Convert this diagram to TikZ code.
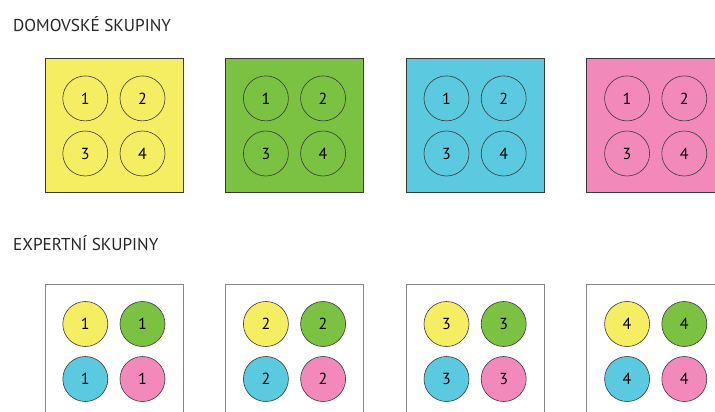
\documentclass[tikz,border=0pt]{standalone}
\usepackage{fontspec}
\setmainfont{PT Sans}
\usetikzlibrary{positioning}
\definecolor{GrpYellow}{HTML}{F6EE62}
\definecolor{GrpGreen}{HTML}{7BC142}
\definecolor{GrpBlue}{HTML}{5BC9DF}
\definecolor{GrpPink}{HTML}{F389BA}
\definecolor{GrpInk}{HTML}{3A3A3A}
\definecolor{GrpFrame}{HTML}{8A8A8A}
\tikzset{
  grptitle/.style={
    anchor=base west,
    inner sep=0pt,
    text=black!85,
    font=\fontsize{17.2}{20}\selectfont
  },
  grpbox/.style={
    minimum width=138pt,
    minimum height=134pt,
    inner sep=0pt
  },
  homebox/.style={
    grpbox,
    draw=GrpInk,
    line width=.8pt
  },
  expertbox/.style={
    grpbox,
    draw=GrpFrame,
    line width=.8pt
  },
  member/.style={
    circle,
    draw=GrpInk,
    line width=.6pt,
    minimum size=45pt,
    inner sep=0pt,
    font=\fontsize{16}{16}\selectfont
  }
}

\begin{document}
\begin{tikzpicture}[x=1pt,y=-1pt,node distance=41.8pt]
    \useasboundingbox (0,0) rectangle (715,412);
    % home groups
    \node[grptitle] (hometitle) at (13,31.5) {DOMOVSKÉ SKUPINY};
    \node[homebox,fill=GrpYellow] (home1) at (114,125) {};
    \node[homebox,fill=GrpGreen,right=of home1] (home2) {};
    \node[homebox,fill=GrpBlue,right=of home2] (home3) {};
    \node[homebox,fill=GrpPink,right=of home3] (home4) {};
    \foreach \g in {1,...,4} {
      \node[member] (home\g-1) at ([xshift=-28.7pt,yshift=26.6pt]home\g.center) {1};
      \node[member] (home\g-2) at ([xshift=28.5pt,yshift=26.6pt]home\g.center) {2};
      \node[member] (home\g-3) at ([xshift=-28.7pt,yshift=-28.5pt]home\g.center) {3};
      \node[member] (home\g-4) at ([xshift=28.5pt,yshift=-28.5pt]home\g.center) {4};
    }
    % expert groups
    \node[grptitle] (experttitle) at (13,250.5) {EXPERTNÍ SKUPINY};
    \node[expertbox] (expert1) at (114,351) {};
    \node[expertbox,right=of expert1] (expert2) {};
    \node[expertbox,right=of expert2] (expert3) {};
    \node[expertbox,right=of expert3] (expert4) {};
    \foreach \g in {1,...,4} {
      \node[member,fill=GrpYellow] (expert\g-1) at ([xshift=-28.7pt,yshift=27pt]expert\g.center) {\g};
      \node[member,fill=GrpGreen] (expert\g-2) at ([xshift=28.5pt,yshift=27pt]expert\g.center) {\g};
      \node[member,fill=GrpBlue] (expert\g-3) at ([xshift=-28.7pt,yshift=-28pt]expert\g.center) {\g};
      \node[member,fill=GrpPink] (expert\g-4) at ([xshift=28.5pt,yshift=-28pt]expert\g.center) {\g};
    }
\end{tikzpicture}
\end{document}
